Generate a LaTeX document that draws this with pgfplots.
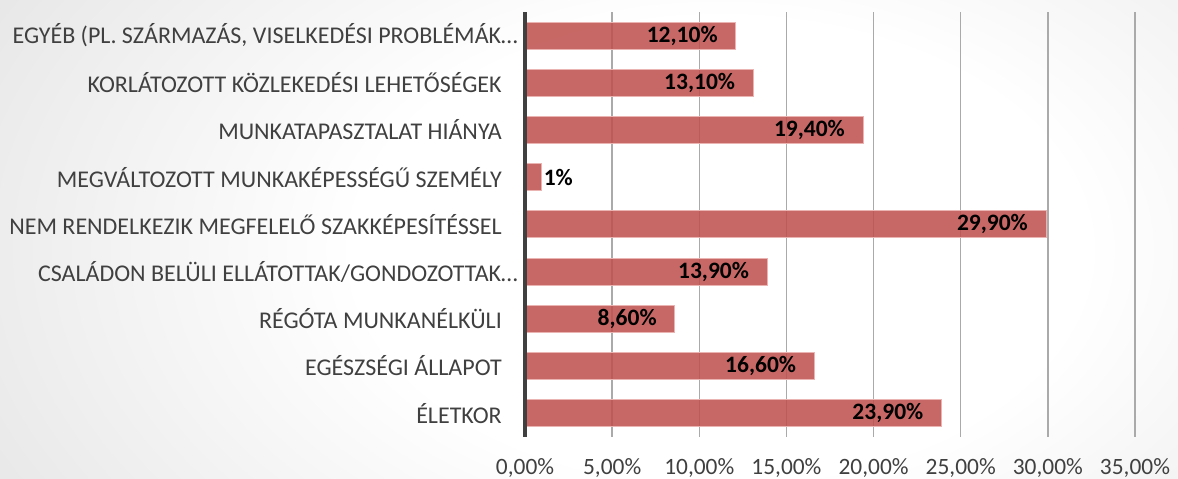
\documentclass[border=0pt]{standalone}
\usepackage{pgfplots}
\pgfplotsset{compat=1.18}
\usepackage{fontspec}
\setmainfont{Carlito}
\definecolor{barred}{RGB}{192,80,77}
\definecolor{baredge}{RGB}{234,180,178}
\definecolor{txtgray}{RGB}{64,64,64}
\definecolor{gridgray}{RGB}{170,170,170}
\definecolor{bggray}{RGB}{196,196,196}
\pgfdeclareradialshading{bgshade}{\pgfpoint{0bp}{0bp}}{color(0bp)=(white); color(12bp)=(white); color(50bp)=(bggray)}
\begin{document}
\fontsize{23.3}{28}\selectfont
\begin{tikzpicture}
\useasboundingbox (0,0) rectangle (1178pt,479pt);
\begin{scope}
\clip (0,0) rectangle (1178pt,479pt);
\shade[shading=bgshade] (-40pt,-251pt) rectangle (1480pt,709pt);
\end{scope}
\begin{axis}[
  at={(525pt,42.3pt)}, anchor=south west,
  width=610pt, height=424.7pt, scale only axis,
  xbar, bar width=27pt, bar shift=0pt,
  xmin=0, xmax=35, ymin=-0.5, ymax=8.5,
  xtick={0,5,...,35},
  xticklabels={{0,00\%},{5,00\%},{10,00\%},{15,00\%},{20,00\%},{25,00\%},{30,00\%},{35,00\%}},
  ytick={0,...,8},
  yticklabels={{ÉLETKOR},{EGÉSZSÉGI ÁLLAPOT},{RÉGÓTA MUNKANÉLKÜLI},{CSALÁDON BELÜLI ELLÁTOTTAK/GONDOZOTTAK…\hspace*{-16pt}},{NEM RENDELKEZIK MEGFELELŐ SZAKKÉPESÍTÉSSEL},{MEGVÁLTOZOTT MUNKAKÉPESSÉGŰ SZEMÉLY},{MUNKATAPASZTALAT HIÁNYA},{KORLÁTOZOTT KÖZLEKEDÉSI LEHETŐSÉGEK},{EGYÉB (PL. SZÁRMAZÁS, VISELKEDÉSI PROBLÉMÁK…\hspace*{-16pt}}},
  xmajorgrids, grid style={gridgray, line width=1.3pt},
  axis line style={draw=none}, major tick style={draw=none},
  ticklabel style={text=txtgray},
  xticklabel style={font=\fontsize{23.4}{28}\selectfont, yshift=-14pt},
  yticklabel style={font=\fontsize{24}{28}\selectfont, xshift=-11pt},
  point meta=explicit symbolic,
  clip=false,
]
\addplot[fill=barred, fill opacity=0.86, draw=baredge, line width=1pt,
  nodes near coords,
  every node near coord/.append style={font=\bfseries\fontsize{23.5}{28}\selectfont, text=black, text opacity=1, anchor=east, xshift=-10pt}]
  coordinates {
  (23.9,0) [23,90\%]
  (16.6,1) [16,60\%]
  (8.6,2) [8,60\%]
  (13.9,3) [13,90\%]
  (29.9,4) [29,90\%]
  (19.4,6) [19,40\%]
  (13.1,7) [13,10\%]
  (12.1,8) [12,10\%]
  };
\addplot[fill=barred, fill opacity=0.86, draw=baredge, line width=1pt,
  nodes near coords,
  every node near coord/.append style={font=\bfseries\fontsize{23.5}{28}\selectfont, text=black, text opacity=1, anchor=west, xshift=-6pt}]
  coordinates {
  (0.95,5) [1\%]
  };
\draw[txtgray, line width=4pt] (axis cs:0,-0.5) -- (axis cs:0,8.5);
\end{axis}
\end{tikzpicture}
\end{document}
